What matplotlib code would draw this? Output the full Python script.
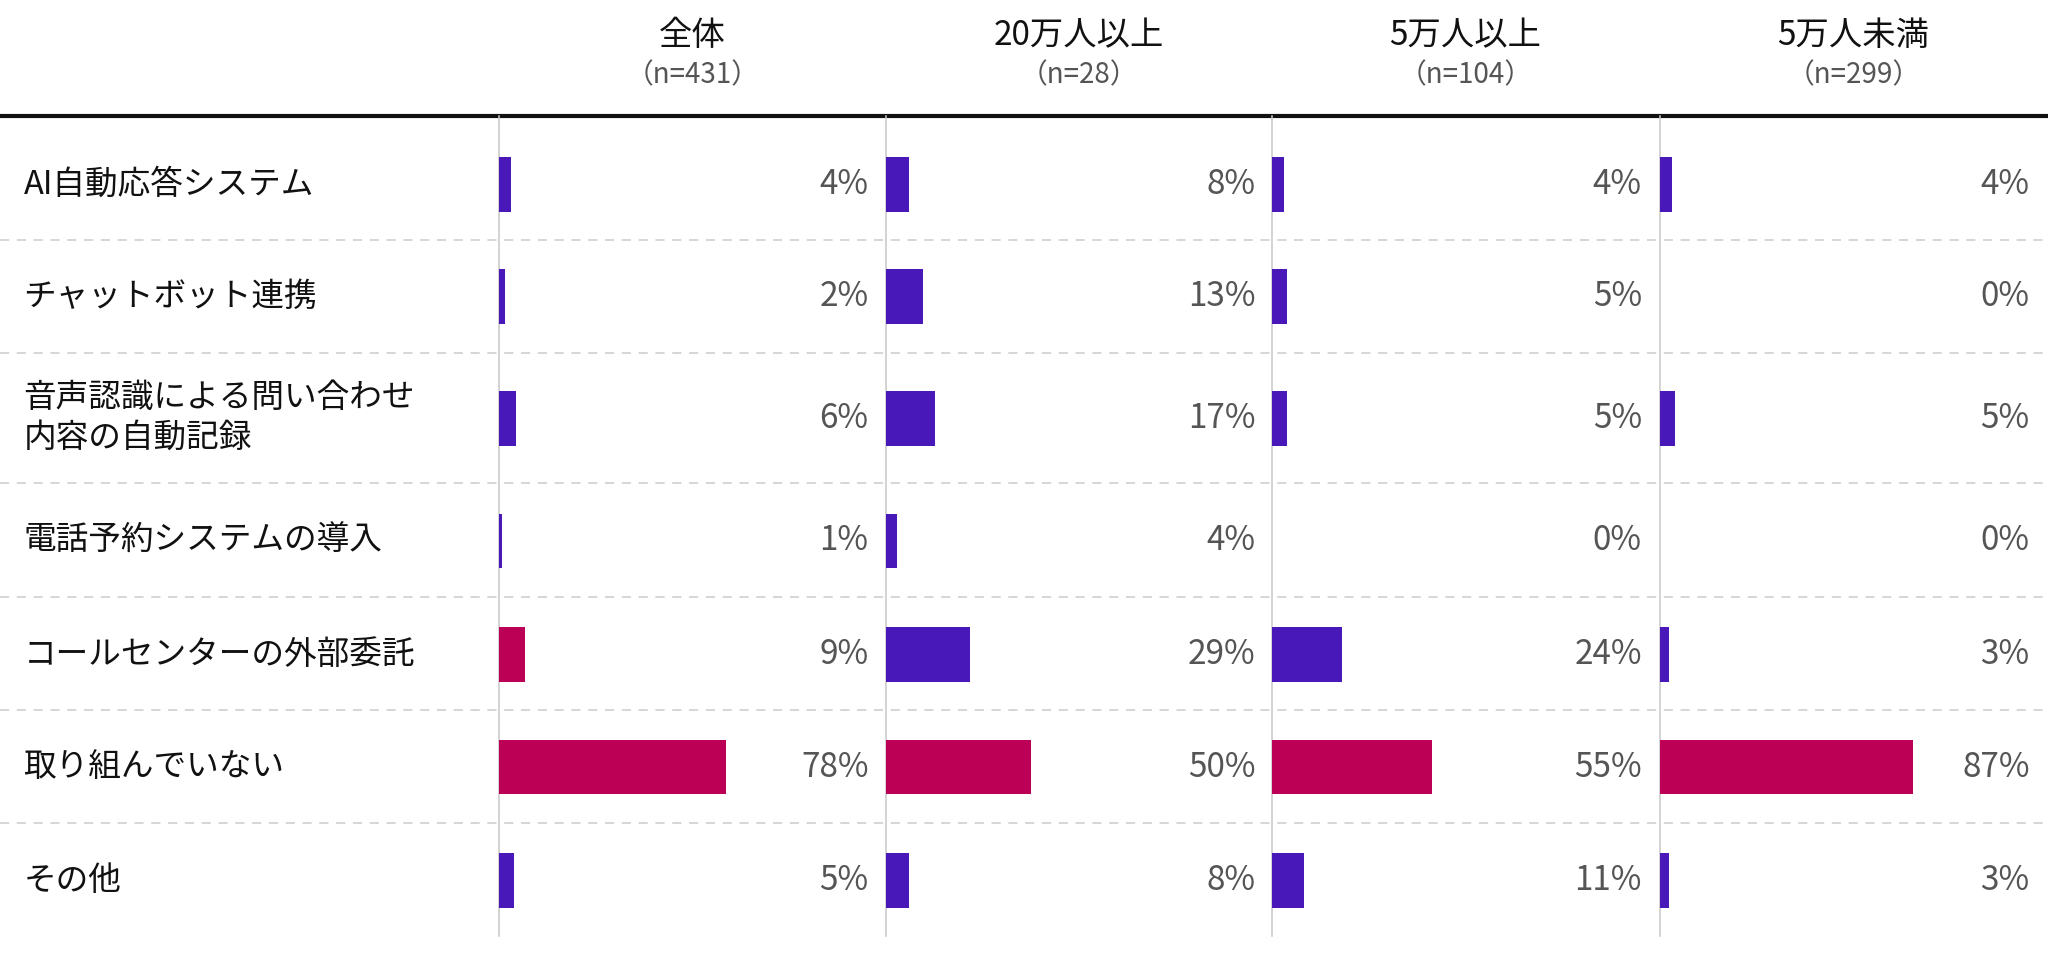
import matplotlib
matplotlib.use("Agg")
import matplotlib.pyplot as plt

plt.rcParams['font.family'] = ['Noto Sans CJK JP', 'DejaVu Sans']

# data
categories = ["AI自動応答システム", "チャットボット連携",
              "音声認識による問い合わせ\n内容の自動記録", "電話予約システムの導入",
              "コールセンターの外部委託", "取り組んでいない", "その他"]
groups = ["全体", "20万人以上", "5万人以上", "5万人未満"]
group_n = [431, 28, 104, 299]
zentai = [4, 2, 6, 1, 9, 78, 5]
over_200k = [8, 13, 17, 4, 29, 50, 8]
over_50k = [4, 5, 5, 0, 24, 55, 11]
under_50k = [4, 0, 5, 0, 3, 87, 3]
highlight = [[4, 5], [5], [5], [5]]  # rows drawn in crimson, per group
series = [zentai, over_200k, over_50k, under_50k]

PURPLE = "#4818B8"
CRIMSON = "#BC0055"

# layout (in units of a 1568 x 737 canvas)
W, H = 1568, 737
row_y = [141, 227, 320, 414, 501, 587, 674]
sep_y = [184, 270, 370, 457, 543, 630]
col_x = [382, 678, 974, 1271]
col_w = 296
head_y = 89
bottom_y = 716
full_scale = 223  # px for 100%

fig = plt.figure(figsize=(20.48, 9.63), dpi=100)
bg = fig.add_axes([0, 0, 1, 1])
bg.set_xlim(0, W)
bg.set_ylim(H, 0)
bg.axis("off")

# header line and row separators
bg.plot([0, W], [head_y, head_y], color="#111111", lw=3, solid_capstyle="butt")
for y in sep_y:
    bg.plot([0, W], [y, y], color="#cccccc", lw=1.1, ls=(0, (6, 5)))
for x in col_x:
    bg.plot([x, x], [head_y, bottom_y], color="#c8c8c8", lw=1.1)

# group headers
for x, g, n in zip(col_x, groups, group_n):
    bg.text(x + col_w / 2, 27, g, ha="center", va="center", fontsize=24, color="#111111")
    bg.text(x + col_w / 2, 58, f"（n={n}）", ha="center", va="center", fontsize=20, color="#555555")

# category labels
for y, c in zip(row_y, categories):
    bg.text(18, y, c, ha="left", va="center", fontsize=23.5, color="#111111", linespacing=1.3)

# bars
for i, (x, vals) in enumerate(zip(col_x, series)):
    ax = fig.add_axes([x / W, 0, col_w / W, 1])
    ax.patch.set_alpha(0)
    ax.set_xlim(0, col_w / full_scale * 100)
    ax.set_ylim(H, 0)
    ax.axis("off")
    colors = [CRIMSON if r in highlight[i] else PURPLE for r in range(len(vals))]
    ax.barh(row_y, vals, height=42, color=colors)
    for y, v in zip(row_y, vals):
        ax.text(1 - 13 / col_w, y, f"{v}%", transform=ax.get_yaxis_transform(),
                ha="right", va="center", fontsize=24, color="#555555")

fig.savefig("out.png", dpi=100)
